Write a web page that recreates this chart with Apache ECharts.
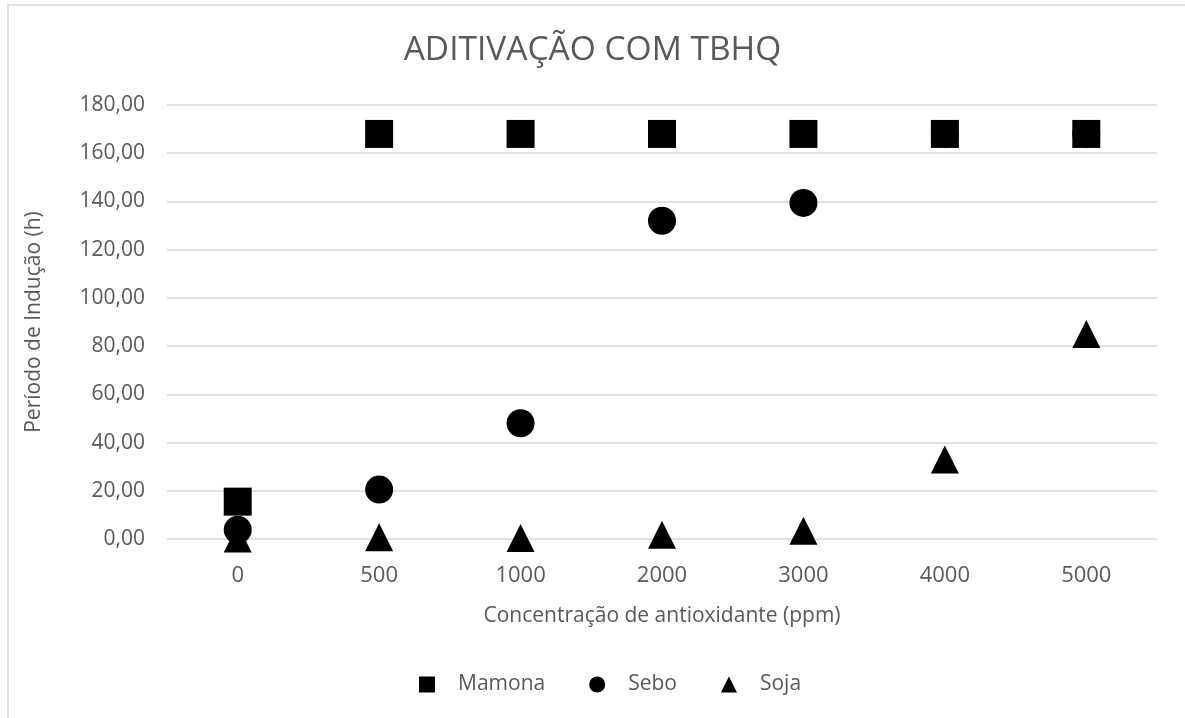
<!DOCTYPE html>
<html>
<head>
<meta charset="utf-8">
<script src="https://cdn.jsdelivr.net/npm/echarts@6/dist/echarts.min.js"></script>
<style>
  html, body { margin: 0; padding: 0; background: #fff; }
  #chart { width: 1185px; height: 718px; }
</style>
</head>
<body>
<div id="chart"></div>
<script>
// Concentração de TBHQ (ppm)
const categories = ['0', '500', '1000', '2000', '3000', '4000', '5000'];
// Período de indução (h) por óleo
const mamona = [15.5, 168, 168, 168, 168, 168, 168];
const sebo = [3.8, 20.5, 48.0, 132.0, 139.4, 168, 168];
const soja = [0.2, 0.7, 0.4, 1.8, 3.4, 33.0, 85.0];
const yTicks = { min: 0, max: 180, interval: 20 };

const textColor = '#595959';
const font = 'Open Sans';

const chart = echarts.init(document.getElementById('chart'));

const fmt = v => v.toFixed(2).replace('.', ',');
const markerStyle = { color: '#000', opacity: 1 };

chart.setOption({
  animation: false,
  backgroundColor: '#fff',
  title: {
    text: 'ADITIVAÇÃO COM TBHQ',
    left: 'center',
    top: 28,
    textStyle: { fontFamily: font, fontSize: 33.5, fontWeight: 'normal', color: textColor }
  },
  graphic: [{
    type: 'rect',
    shape: { x: 8, y: 5, width: 1400, height: 900 },
    style: { fill: 'none', stroke: '#d9d9d9', lineWidth: 1.5 },
    silent: true,
    z: -1
  }],
  legend: {
    bottom: 18,
    left: 414,
    itemWidth: 16,
    itemHeight: 16,
    itemGap: 44,
    textStyle: { fontFamily: font, fontSize: 21, color: textColor, padding: [0, 0, 0, 18] },
    data: [
      { name: 'Mamona', icon: 'rect' },
      { name: 'Sebo', icon: 'circle' },
      { name: 'Soja', icon: 'triangle' }
    ]
  },
  grid: { left: 167, right: 28, top: 105, bottom: 179 },
  xAxis: {
    type: 'category',
    data: categories,
    boundaryGap: true,
    name: 'Concentração de antioxidante (ppm)',
    nameLocation: 'middle',
    nameGap: 67,
    nameTextStyle: { fontFamily: font, fontSize: 21, color: textColor },
    axisLine: { show: false },
    axisTick: { show: false },
    axisLabel: { fontFamily: font, fontSize: 22, color: textColor, margin: 26 },
    splitLine: { show: false }
  },
  yAxis: {
    type: 'value',
    min: yTicks.min,
    max: yTicks.max,
    interval: yTicks.interval,
    name: 'Período de Indução (h)',
    nameLocation: 'middle',
    nameGap: 122,
    nameTextStyle: { fontFamily: font, fontSize: 21, color: textColor },
    axisLine: { show: false },
    axisTick: { show: false },
    axisLabel: { fontFamily: font, fontSize: 21, color: textColor, margin: 22, formatter: fmt },
    splitLine: { lineStyle: { color: '#d9d9d9', width: 1.5 } }
  },
  series: [
    { name: 'Mamona', type: 'scatter', symbol: 'rect', symbolSize: 28, data: mamona, itemStyle: markerStyle },
    { name: 'Sebo', type: 'scatter', symbol: 'circle', symbolSize: 28, data: sebo, itemStyle: markerStyle },
    { name: 'Soja', type: 'scatter', symbol: 'triangle', symbolSize: 28, data: soja, itemStyle: markerStyle }
  ]
});
</script>
</body>
</html>
